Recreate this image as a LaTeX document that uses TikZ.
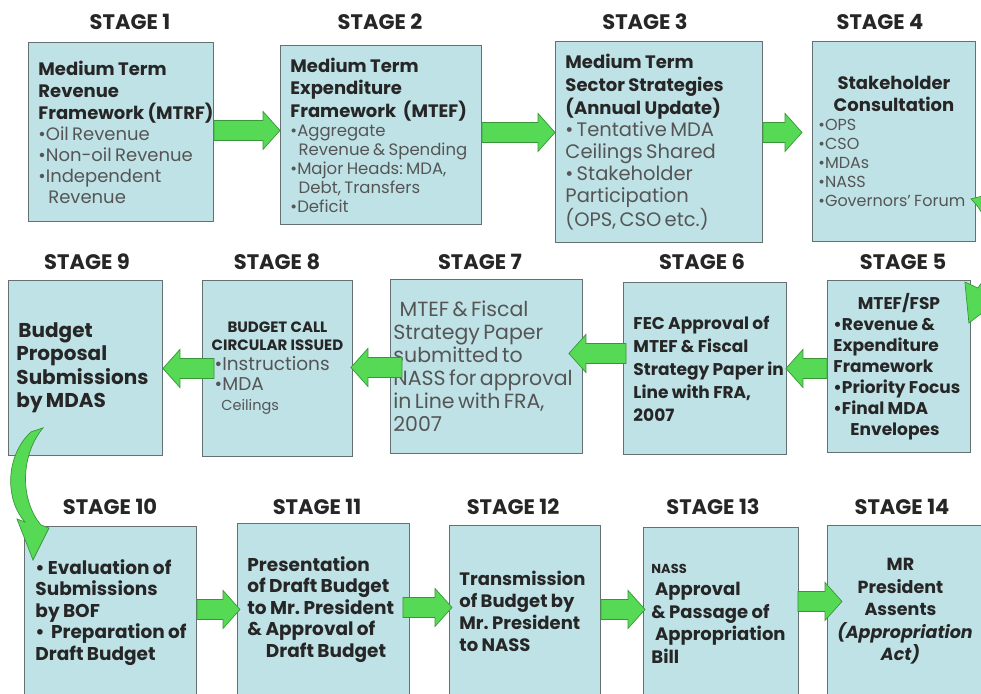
\documentclass[tikz,border=0pt]{standalone}
\usepackage{fontspec}
\setmainfont{Poppins}
\usetikzlibrary{calc}

\definecolor{boxfill}{RGB}{191,226,230}
\definecolor{boxedge}{RGB}{100,112,114}
\definecolor{arrowfill}{RGB}{86,218,86}
\definecolor{arrowedge}{RGB}{56,150,56}
\definecolor{txtdark}{RGB}{38,38,38}
\definecolor{txtgray}{RGB}{85,85,85}

\newcommand{\boldlines}[3]{{\fontsize{#1}{#2}\selectfont\hyphenpenalty=10000\bfseries\color{txtdark}#3\par}}
\newcommand{\greylines}[3]{{\fontsize{#1}{#2}\selectfont\hyphenpenalty=10000\color{txtgray}#3\par}}

% block arrow from #1 to #2, #3 = 1 (right) or -1 (left)
\newcommand{\flowarrow}[3]{%
  \draw[flowarrow] let \p1=(#1), \p2=(#2) in
    (\x1,{\y1+10pt}) -- ({\x2-17pt*(#3)},{\y1+10pt}) -- ({\x2-17pt*(#3)},{\y1+19pt})
    -- (\x2,\y1) -- ({\x2-17pt*(#3)},{\y1-19pt}) -- ({\x2-17pt*(#3)},{\y1-10pt})
    -- (\x1,{\y1-10pt}) -- cycle;}

\tikzset{
  stagebox/.style={draw=boxedge, fill=boxfill, line width=0.9pt, anchor=north west, align=left, inner ysep=0pt},
  stagelabel/.style={font=\fontsize{21}{21}\selectfont\bfseries, text=txtdark},
  flowarrow/.style={fill=arrowfill, draw=arrowedge, line width=0.7pt, line join=miter},
}

\begin{document}
\begin{tikzpicture}[x=1pt, y=-1pt]
    \fill[white] (0,0) rectangle (981,693);
    \useasboundingbox (0,0) rectangle (981,693);

    % stage titles
    \node[stagelabel] (l1) at (130,22) {STAGE 1};
    \node[stagelabel] (l2) at (380,22) {STAGE 2};
    \node[stagelabel] (l3) at (645,22) {STAGE 3};
    \node[stagelabel] (l4) at (880,22) {STAGE 4};
    \node[stagelabel] (l9) at (87,262) {STAGE 9};
    \node[stagelabel] (l8) at (277,262) {STAGE 8};
    \node[stagelabel] (l7) at (480,262) {STAGE 7};
    \node[stagelabel] (l6) at (702,262) {STAGE 6};
    \node[stagelabel] (l5) at (903,262) {STAGE 5};
    \node[stagelabel] (l10) at (110,507) {STAGE 10};
    \node[stagelabel] (l11) at (317,507) {STAGE 11};
    \node[stagelabel] (l12) at (513,507) {STAGE 12};
    \node[stagelabel] (l13) at (713,507) {STAGE 13};
    \node[stagelabel] (l14) at (902,507) {STAGE 14};

    % first row
    \node[stagebox, minimum width=185pt, minimum height=179pt, text width=165pt, inner xsep=10pt] (s1) at (28,42) {%
      \boldlines{18}{22}{Medium~Term\\Revenue\\Framework~(MTRF)}%
      \greylines{18}{21}{\textbullet Oil~Revenue\\\textbullet Non-oil~Revenue\\\textbullet Independent\\\hspace*{0.55em}Revenue}};
    \node[stagebox, minimum width=201pt, minimum height=179pt, text width=181pt, inner xsep=10pt] (s2) at (280,45) {%
      \boldlines{18}{22.5}{Medium~Term\\Expenditure\\Framework~~(MTEF)}%
      \greylines{16.5}{19}{\textbullet Aggregate\\\hspace*{0.5em}Revenue~\&~Spending\\\textbullet Major~Heads:~MDA,\\\hspace*{0.5em}Debt,~Transfers\\\textbullet Deficit}};
    \node[stagebox, minimum width=207pt, minimum height=201pt, text width=187pt, inner xsep=10pt] (s3) at (555,41) {%
      \boldlines{18}{23}{Medium~Term\\Sector~Strategies\\(Annual~Update)}%
      \greylines{19.5}{22}{\textbullet\,Tentative~MDA\\Ceilings~Shared\\\textbullet\,Stakeholder\\Participation\\(OPS,~CSO~etc.)}};
    \node[stagebox, minimum width=163pt, minimum height=200pt, text width=151pt, inner xsep=6pt] (s4) at (812,41) {%
      \boldlines{18}{22}{\centering Stakeholder\\Consultation}%
      \greylines{16}{19}{\textbullet OPS\\\textbullet CSO\\\textbullet MDAs\\\textbullet NASS\\\textbullet Governors'~Forum}};

    % second row
    \node[stagebox, minimum width=143pt, minimum height=172pt, text width=131pt, inner xsep=6pt] (s5) at (827,280) {%
      \boldlines{17}{21}{\centering MTEF/FSP\par\raggedright\textbullet Revenue~\&\\Expenditure\\Framework\\\textbullet Priority~Focus\\\textbullet Final~MDA\\\hspace*{1em}Envelopes}};
    \node[stagebox, minimum width=163pt, minimum height=172pt, text width=143pt, inner xsep=10pt] (s6) at (623,282) {%
      \boldlines{17}{23}{FEC~Approval~of\\MTEF~\&~Fiscal\\Strategy~Paper~in\\Line~with~FRA,\\2007}};
    \node[stagebox, minimum width=192pt, minimum height=174pt, text width=186pt, inner xsep=3pt] (s7) at (390,279) {%
      \greylines{20.5}{23}{\hspace*{0.3em}MTEF~\&~Fiscal\\Strategy~Paper\\submitted~to\\NASS~for~approval\\in~Line~with~FRA,\\2007}};
    \node[stagebox, minimum width=150pt, minimum height=176pt, text width=144pt, inner xsep=3pt] (s8) at (202,280) {%
      \boldlines{15}{18}{\centering BUDGET~CALL\\CIRCULAR~ISSUED}%
      \greylines{18.5}{20}{\hspace*{0.5em}\textbullet Instructions\\\hspace*{0.5em}\textbullet MDA\\{\fontsize{14.5}{16}\selectfont\hspace*{1.1em}Ceilings}}};
    \node[stagebox, minimum width=154pt, minimum height=175pt, text width=138pt, inner xsep=8pt] (s9) at (8,280) {%
      \boldlines{20}{23.5}{\hspace*{0.1em}Budget\\Proposal\\Submissions\\by~MDAS}};

    % third row
    \node[stagebox, minimum width=172pt, minimum height=172pt, text width=150pt, inner xsep=11pt] (s10) at (24,526) {%
      \boldlines{18.5}{21.5}{\textbullet\,Evaluation~of\\Submissions\\by~BOF\\\textbullet~\,Preparation~of\\Draft~Budget}};
    \node[stagebox, minimum width=172pt, minimum height=172pt, text width=152pt, inner xsep=10pt] (s11) at (237,523) {%
      \boldlines{18.5}{21.5}{Presentation\\of~Draft~Budget\\to~Mr.~President\\\&~Approval~of\\\hspace*{1em}Draft~Budget}};
    \node[stagebox, minimum width=151pt, minimum height=172pt, text width=131pt, inner xsep=10pt] (s12) at (449,525) {%
      \boldlines{18}{22}{Transmission\\of~Budget~by\\Mr.~President\\to~NASS}};
    \node[stagebox, minimum width=155pt, minimum height=172pt, text width=139pt, inner xsep=8pt] (s13) at (643,527) {%
      \boldlines{18}{22.5}{{\fontsize{13}{13}\selectfont NASS}\\\hspace*{0.2em}Approval\\\&~Passage~of\\\hspace*{0.2em}Appropriation\\Bill}};
    \node[stagebox, minimum width=170pt, minimum height=172pt, text width=150pt, inner xsep=10pt] (s14) at (827,525) {%
      \boldlines{17.5}{22.5}{\centering\rightskip=24pt plus 1fil MR\\President\\Assents\\\textit{(Appropriation}\\\textit{Act)}}};

    % straight arrows
    \flowarrow{[yshift=1.5pt]s1.east}{s2.west}{1}
    \flowarrow{[yshift=2.5pt]s2.east}{s3.west}{1}
    \flowarrow{[yshift=9.5pt]s3.east}{[xshift=-10pt]s4.west}{1}
    \flowarrow{[yshift=-2pt]s5.west}{[xshift=-1pt]s6.east}{-1}
    \flowarrow{[xshift=3pt,yshift=15pt]s6.west}{[xshift=-14pt]s7.east}{-1}
    \flowarrow{[xshift=12pt,yshift=-1pt]s7.west}{[xshift=-2pt]s8.east}{-1}
    \flowarrow{[xshift=12pt]s8.west}{s9.east}{-1}
    \flowarrow{[yshift=3pt]s10.east}{[xshift=3pt]s11.west}{1}
    \flowarrow{[xshift=-7pt,yshift=2pt]s11.east}{[xshift=3pt]s12.west}{1}
    \flowarrow{[yshift=2pt]s12.east}{[xshift=2pt]s13.west}{1}
    \flowarrow{[xshift=-1pt,yshift=12pt]s13.east}{[xshift=15pt]s14.west}{1}

    % curved arrow, stage 4 to stage 5
    \draw[flowarrow] ($(s4.south east)+(-5,-43)$) -- ($(s4.south east)+(11,-47)$)
        .. controls ($(s4.south east)+(37,-26)$) and ($(s5.north east)+(42,-5)$) .. ($(s5.north east)+(20,16)$)
        -- ($(s5.north east)+(28,20)$) -- ($(s5.north east)+(-2,43)$) -- ($(s5.north east)+(-6,2)$)
        -- ($(s5.north east)+(7,8)$)
        .. controls ($(s5.north east)+(25,-15)$) and ($(s4.south east)+(20,-19)$) .. cycle;

    % curved arrow, stage 9 to stage 10
    \draw[flowarrow] ($(s9.south west)+(35,-28)$) -- ($(s9.south west)+(23,-24)$)
        .. controls ($(s9.south west)+(-3,0)$) and ($(s10.north west)+(-19,-26)$) .. ($(s10.north west)+(1,-4)$)
        -- ($(s10.north west)+(-7,-7)$) -- ($(s10.north west)+(9,34)$) -- ($(s10.north west)+(25,2)$)
        -- ($(s10.north west)+(17,-1)$)
        .. controls ($(s10.north west)+(-4,-26)$) and ($(s9.south west)+(12,0)$) .. cycle;
\end{tikzpicture}
\end{document}
